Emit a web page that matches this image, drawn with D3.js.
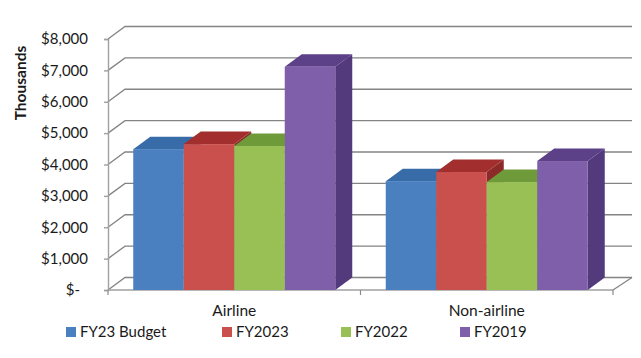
<!DOCTYPE html>
<html>
<head>
<meta charset="utf-8">
<script src="https://cdn.jsdelivr.net/npm/d3@7/dist/d3.min.js"></script>
<style>
  html, body { margin: 0; padding: 0; background: #fff; }
  svg { display: block; }
  text { font-family: Lato, "Open Sans", sans-serif; fill: #1a1a1a; }
</style>
</head>
<body>
<svg id="chart" width="641" height="358"></svg>
<script>
// Revenue by category, in thousands of dollars
const categories = ["Airline", "Non-airline"];
const seriesNames = ["FY23 Budget", "FY2023", "FY2022", "FY2019"];
const budget = [4490, 3470];
const fy2023 = [4650, 3760];
const fy2022 = [4590, 3440];
const fy2019 = [7115, 4110];
const seriesValues = [budget, fy2023, fy2022, fy2019];
const yTicks = [0, 1000, 2000, 3000, 4000, 5000, 6000, 7000, 8000];

const frontColors = ["#4a7fc0", "#c9504c", "#98c055", "#7f5fa9"];
const topColors   = ["#376ca9", "#a22e2e", "#6f9a3a", "#5c4088"];
const sideColors  = ["#2f5c92", "#8c2a2a", "#5f8532", "#523a7c"];

// Oblique projection offset from the front plane to the back wall
const depthX = 17, depthY = -12.5;

const svg = d3.select("#chart");

const y = d3.scaleLinear().domain([0, 8000]).range([290, 39]);
const x0 = d3.scaleBand().domain(categories).range([108, 613])
  .paddingInner(0.2).paddingOuter(0.1);
const x1 = d3.scaleBand().domain(d3.range(seriesNames.length)).range([0, x0.bandwidth()]);

const path = pts => "M" + pts.map(p => p.join(",")).join("L") + "Z";
const gridColor = "#848484";

// Walls and floor: gridlines run along the left wall and then across the back
const walls = svg.append("g").attr("fill", "none").attr("stroke", gridColor);
walls.selectAll("path.grid").data(yTicks).join("path")
  .attr("class", "grid")
  .attr("stroke-width", 1.3)
  .attr("d", d => `M108,${y(d)}L${108 + depthX},${y(d) + depthY}L632,${y(d) + depthY}`);
walls.append("path")
  .attr("stroke-width", 1.3)
  .attr("d", `M613,${y(0)}L632,${y(0) + depthY}`);

// Y axis with accounting-style dollar labels
const yAxis = d3.axisLeft(y)
  .tickValues(yTicks)
  .tickSize(4)
  .tickPadding(16)
  .tickFormat(d => d === 0 ? "$-" : d3.format("$,")(d));
const yG = svg.append("g").attr("transform", "translate(108,0)").call(yAxis);
yG.selectAll("path,line").attr("stroke", "#a0a0a0").attr("stroke-width", 1.4);
yG.selectAll("text").attr("font-size", 15).attr("fill", "#1a1a1a")
  .attr("dx", d => d === 0 ? -8 : 0);

// Category axis, with ticks at the group boundaries
const xAxisY = y(0);
svg.append("line").attr("x1", 108).attr("x2", 613).attr("y1", xAxisY).attr("y2", xAxisY)
  .attr("stroke", "#a0a0a0").attr("stroke-width", 1.4);
svg.selectAll("line.xtick").data([0, 1, 2]).join("line")
  .attr("class", "xtick")
  .attr("x1", i => x0.range()[0] + i * x0.step())
  .attr("x2", i => x0.range()[0] + i * x0.step())
  .attr("y1", xAxisY).attr("y2", xAxisY + 5)
  .attr("stroke", "#8a8a8a").attr("stroke-width", 1.2);
svg.selectAll("text.cat").data(categories).join("text")
  .attr("class", "cat")
  .attr("x", d => x0(d) + x0.bandwidth() / 2)
  .attr("y", 316)
  .attr("text-anchor", "middle")
  .attr("font-size", 15.5)
  .text(d => d);

// 3D bars, painted left to right so each box overlaps its neighbour's side
const bars = svg.append("g");
categories.forEach((cat, c) => {
  seriesValues.forEach((values, s) => {
    const left = x0(cat) + x1(s), right = left + x1.bandwidth();
    const top = y(values[c]), base = y(0);
    const g = bars.append("g");
    g.append("path").attr("fill", sideColors[s]).attr("d", path([
      [right, top], [right + depthX, top + depthY],
      [right + depthX, base + depthY], [right, base]]));
    g.append("path").attr("fill", topColors[s]).attr("d", path([
      [left, top], [left + depthX, top + depthY],
      [right + depthX, top + depthY], [right, top]]));
    g.append("rect").attr("fill", frontColors[s])
      .attr("x", left).attr("y", top)
      .attr("width", x1.bandwidth()).attr("height", base - top);
  });
});

// Rotated axis title
svg.append("text")
  .attr("transform", "translate(25.5,83) rotate(-90)")
  .attr("text-anchor", "middle")
  .attr("font-size", 15.5)
  .attr("font-weight", 700)
  .text("Thousands");

// Legend
const legendX = [66, 222, 341, 460];
const legend = svg.selectAll("g.legend").data(seriesNames).join("g")
  .attr("class", "legend")
  .attr("transform", (d, i) => `translate(${legendX[i]},327)`);
legend.append("rect").attr("width", 10).attr("height", 10)
  .attr("fill", (d, i) => frontColors[i]);
legend.append("text").attr("x", 14).attr("y", 10)
  .attr("font-size", 15).text(d => d);
</script>
</body>
</html>
